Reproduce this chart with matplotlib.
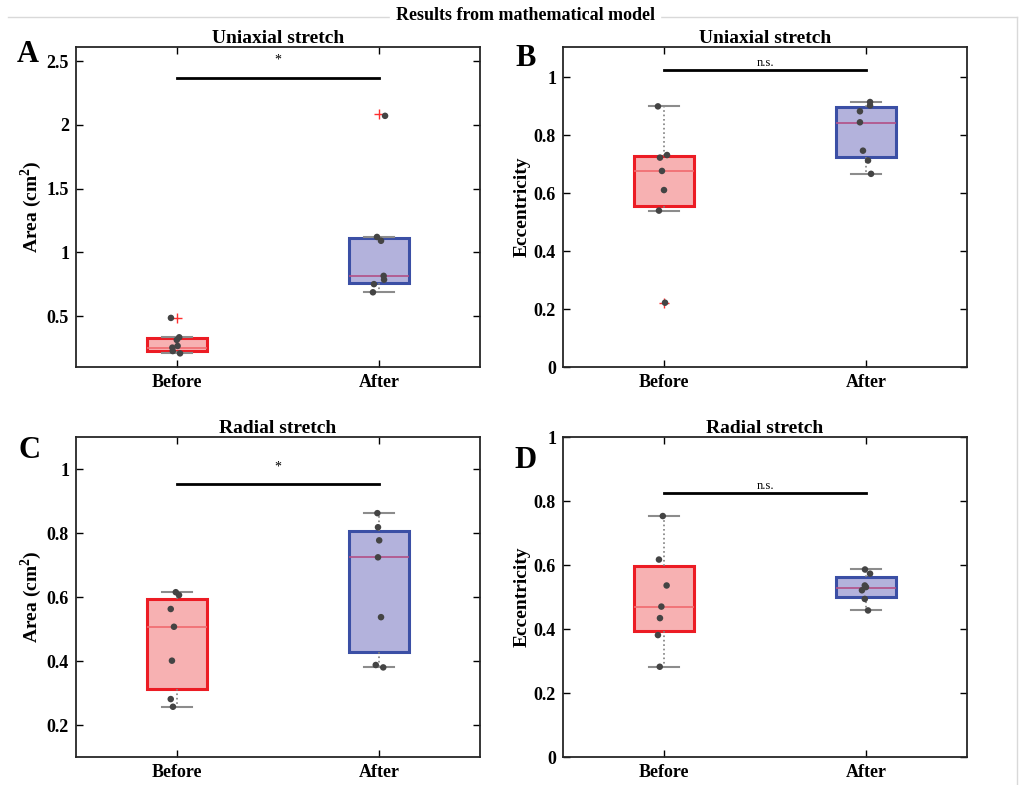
import matplotlib
matplotlib.use("Agg")
import matplotlib.pyplot as plt
from matplotlib.ticker import FormatStrFormatter
from matplotlib.lines import Line2D

plt.rcParams['font.family'] = ['Liberation Serif', 'DejaVu Serif']
plt.rcParams['font.weight'] = 'bold'
plt.rcParams['axes.labelweight'] = 'bold'
plt.rcParams['axes.titleweight'] = 'bold'
plt.rcParams['mathtext.fontset'] = 'custom'
plt.rcParams['mathtext.rm'] = 'Liberation Serif'
plt.rcParams['mathtext.bf'] = 'Liberation Serif:bold'

W, H = 1022, 785

groups = ['Before', 'After']

# data points per panel (Before, After)
area_uni_before = [0.485, 0.333, 0.312, 0.265, 0.252, 0.225, 0.207]
area_uni_after = [2.07, 1.12, 1.09, 0.815, 0.785, 0.75, 0.686]
ecc_uni_before = [0.90, 0.732, 0.723, 0.677, 0.611, 0.54, 0.222]
ecc_uni_after = [0.915, 0.903, 0.883, 0.845, 0.747, 0.713, 0.667]
area_rad_before = [0.615, 0.606, 0.5625, 0.507, 0.401, 0.281, 0.257]
area_rad_after = [0.862, 0.818, 0.777, 0.724, 0.537, 0.3875, 0.38]
ecc_rad_before = [0.753, 0.617, 0.536, 0.470, 0.434, 0.381, 0.282]
ecc_rad_after = [0.586, 0.573, 0.536, 0.531, 0.521, 0.494, 0.458]

# horizontal jitter of the points (x units)
jit_area_uni_before = [-0.03, 0.011, -0.001, 0.003, -0.023, -0.021, 0.015]
jit_area_uni_after = [0.03, -0.01, 0.01, 0.023, 0.025, -0.025, -0.03]
jit_ecc_uni_before = [-0.03, 0.015, -0.02, -0.01, 0.0, -0.025, 0.005]
jit_ecc_uni_after = [0.02, 0.02, -0.03, -0.03, -0.015, 0.01, 0.025]
jit_area_rad_before = [-0.006, 0.01, -0.031, -0.015, -0.025, -0.031, -0.02]
jit_area_rad_after = [-0.008, -0.005, 0.001, -0.005, 0.01, -0.016, 0.021]
jit_ecc_rad_before = [-0.006, -0.025, 0.013, -0.013, -0.02, -0.03, -0.021]
jit_ecc_rad_after = [-0.005, 0.02, -0.006, 0.0, -0.02, -0.006, 0.01]

# box statistics: (whislo, q1, med, q3, whishi, fliers)
stats_area_uni = [(0.207, 0.225, 0.251, 0.325, 0.333, [0.485]),
                  (0.686, 0.76, 0.81, 1.114, 1.12, [2.082])]
stats_ecc_uni = [(0.54, 0.557, 0.677, 0.73, 0.90, [0.222]),
                 (0.667, 0.724, 0.844, 0.897, 0.915, [])]
stats_area_rad = [(0.257, 0.3125, 0.507, 0.594, 0.615, []),
                  (0.38, 0.427, 0.724, 0.807, 0.862, [])]
stats_ecc_rad = [(0.282, 0.395, 0.470, 0.596, 0.753, []),
                 (0.458, 0.50, 0.527, 0.563, 0.586, [])]

sig_heights = [2.367, 1.024, 0.952, 0.824]
sig_labels = ['*', 'n.s.', '*', 'n.s.']

face_cols = ['#f7b1b2', '#b3b2dc']
edge_cols = ['#ec1c24', '#3b4fa5']
med_cols = ['#f06a6e', '#b24f86']


def rect(l, t, r, b):
    return [l / W, 1 - b / H, (r - l) / W, (b - t) / H]


fig = plt.figure(figsize=(W / 100, H / 100), dpi=100)

# light panel frame
fig.add_artist(Line2D([8 / W, 1017 / W], [1 - 17 / H, 1 - 17 / H], color='#d9d9d9', lw=1))
fig.add_artist(Line2D([1017 / W, 1017 / W], [1 - 17 / H, 0], color='#d9d9d9', lw=1))
fig.text(525 / W, 1 - 15 / H, 'Results from mathematical model', ha='center', va='center',
         fontsize=13, fontweight='bold', backgroundcolor='white')

panels = [
    (rect(76, 47, 480, 367), stats_area_uni, [area_uni_before, area_uni_after],
     [jit_area_uni_before, jit_area_uni_after], 'Uniaxial stretch', 'Area (cm$^\\mathbf{2}$)',
     (0.1, 2.61), [0.5, 1, 1.5, 2, 2.5], 'A', (28, 54)),
    (rect(563, 47, 967, 367), stats_ecc_uni, [ecc_uni_before, ecc_uni_after],
     [jit_ecc_uni_before, jit_ecc_uni_after], 'Uniaxial stretch', 'Eccentricity',
     (0, 1.105), [0, 0.2, 0.4, 0.6, 0.8, 1], 'B', (526, 59)),
    (rect(76, 437, 480, 757), stats_area_rad, [area_rad_before, area_rad_after],
     [jit_area_rad_before, jit_area_rad_after], 'Radial stretch', 'Area (cm$^\\mathbf{2}$)',
     (0.1, 1.1), [0.2, 0.4, 0.6, 0.8, 1], 'C', (30, 450)),
    (rect(563, 437, 967, 757), stats_ecc_rad, [ecc_rad_before, ecc_rad_after],
     [jit_ecc_rad_before, jit_ecc_rad_after], 'Radial stretch', 'Eccentricity',
     (0, 1.0), [0, 0.2, 0.4, 0.6, 0.8, 1], 'D', (525, 460)),
]

for i, (pos, stats, pts, jit, title, ylabel, ylim, yticks, letter, lpos) in enumerate(panels):
    ax = fig.add_axes(pos)
    bstats = []
    for s in stats:
        bstats.append(dict(whislo=s[0], q1=s[1], med=s[2], q3=s[3], whishi=s[4], fliers=s[5]))
    bp = ax.bxp(bstats, positions=[1, 2], widths=0.3, patch_artist=True, capwidths=0.15,
                whiskerprops=dict(color='#7f7f7f', lw=1.2, ls=':'),
                capprops=dict(color='#8c8c8c', lw=1.5),
                flierprops=dict(marker='+', markeredgecolor='#ff3030', markersize=7, mew=1))
    for j in range(2):
        bp['boxes'][j].set_facecolor(face_cols[j])
        bp['boxes'][j].set_edgecolor(edge_cols[j])
        bp['boxes'][j].set_linewidth(2.2)
        bp['medians'][j].set_color(med_cols[j])
        bp['medians'][j].set_linewidth(1.2)
        xs = [j + 1 + d for d in jit[j]]
        ax.scatter(xs, pts[j], s=22, color='#444444', zorder=5, edgecolors='none')

    # significance bar
    ax.plot([1, 2], [sig_heights[i], sig_heights[i]], color='black', lw=2)
    if sig_labels[i] == '*':
        ax.annotate('*', (1.5, sig_heights[i]), xytext=(0, 8), textcoords='offset points',
                    ha='center', va='bottom', fontsize=10, fontweight='normal')
    else:
        ax.annotate('n.s.', (1.5, sig_heights[i]), xytext=(0, 1), textcoords='offset points',
                    ha='center', va='bottom', fontsize=9, fontweight='normal')

    ax.set_xlim(0.5, 2.5)
    ax.set_ylim(*ylim)
    ax.set_xticks([1, 2])
    ax.set_xticklabels(groups, fontsize=13)
    ax.set_yticks(yticks)
    ax.yaxis.set_major_formatter(FormatStrFormatter('%g'))
    ax.tick_params(direction='in', top=True, right=True, length=5, width=1, labelsize=13, pad=5)
    for sp in ax.spines.values():
        sp.set_linewidth(1.3)
        sp.set_color('#262626')
    ax.set_title(title, fontsize=14, pad=3)
    ax.set_ylabel(ylabel, fontsize=14, labelpad=2)
    fig.text(lpos[0] / W, 1 - lpos[1] / H, letter, ha='center', va='center',
             fontsize=22, fontweight='bold')

fig.savefig('out.png', dpi=100)
